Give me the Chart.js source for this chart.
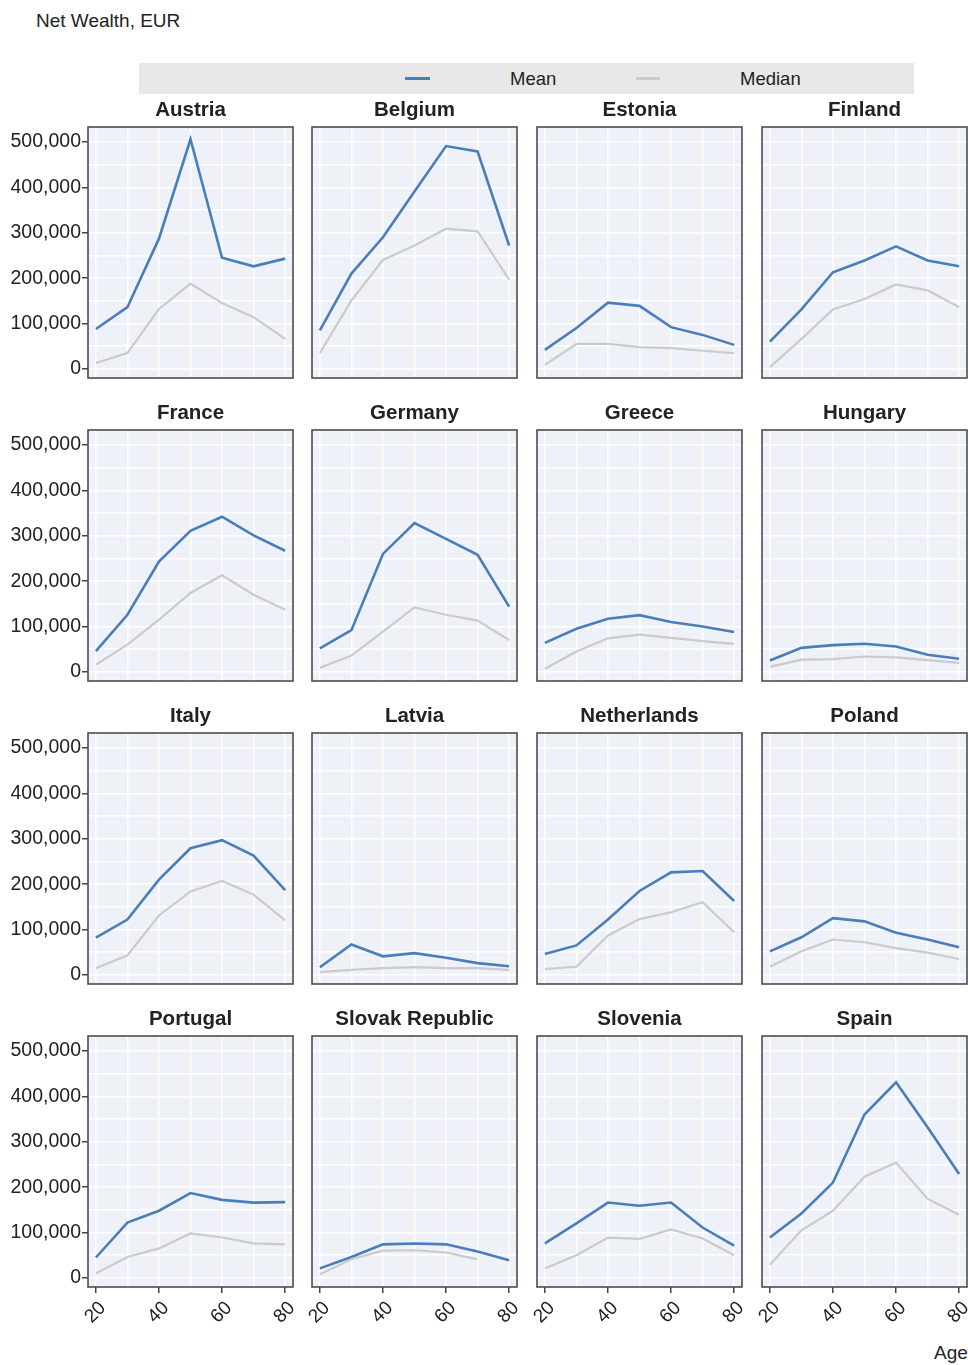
<!DOCTYPE html>
<html>
<head>
<meta charset="utf-8">
<script src="https://cdn.jsdelivr.net/npm/chart.js@4.4.0/dist/chart.umd.min.js"></script>
<style>
  body { margin: 0; background: #fff; font-family: "Liberation Sans", Arial, sans-serif; color: #222; }
  #page { position: relative; width: 968px; height: 1365px; overflow: hidden; }
  .panel { position: absolute; }
  #header { position: absolute; left: 36px; top: 10px; font-size: 19px; }
  #legend { position: absolute; left: 139px; top: 63px; width: 775px; height: 31px; background: #e8e8e8; font-size: 18.5px; }
  #legend span { position: absolute; }
  .swatch { top: 14px; height: 2.5px; }
  .lbl { top: 5px; }
  #agelabel { position: absolute; left: 934px; top: 1342px; font-size: 19px; }
</style>
</head>
<body>
<div id="page">
  <div id="header">Net Wealth, EUR</div>
  <div id="legend">
    <span class="swatch" style="left:266px;width:25px;background:#4a7ebb"></span>
    <span class="lbl" style="left:371px">Mean</span>
    <span class="swatch" style="left:497px;width:24px;background:#cbcbcb"></span>
    <span class="lbl" style="left:601px">Median</span>
  </div>
  <div id="agelabel">Age</div>
</div>
<script>
// Net wealth by age of household head, EUR
const ages = [20, 30, 40, 50, 60, 70, 80];
const yTickValues = [0, 50000, 100000, 150000, 200000, 250000, 300000, 350000, 400000, 450000, 500000];

const countries = [
  "Austria", "Belgium", "Estonia", "Finland",
  "France", "Germany", "Greece", "Hungary",
  "Italy", "Latvia", "Netherlands", "Poland",
  "Portugal", "Slovak Republic", "Slovenia", "Spain"
];

const austriaMean = [88000, 136000, 287000, 506000, 245000, 226000, 243000];
const austriaMedian = [13000, 35000, 132000, 188000, 145000, 114000, 66000];
const belgiumMean = [85000, 210000, 290000, 391000, 491000, 479000, 272000];
const belgiumMedian = [35000, 151000, 240000, 272000, 309000, 303000, 197000];
const estoniaMean = [42000, 90000, 146000, 139000, 92000, 75000, 53000];
const estoniaMedian = [9000, 55000, 55000, 48000, 46000, 40000, 35000];
const finlandMean = [60000, 131000, 213000, 239000, 270000, 239000, 226000];
const finlandMedian = [4000, 66000, 131000, 154000, 186000, 173000, 136000];

const franceMean = [46000, 126000, 243000, 311000, 342000, 301000, 267000];
const franceMedian = [16000, 60000, 115000, 174000, 213000, 170000, 137000];
const germanyMean = [52000, 92000, 260000, 328000, 293000, 258000, 144000];
const germanyMedian = [9000, 36000, 89000, 142000, 126000, 113000, 70000];
const greeceMean = [64000, 95000, 117000, 125000, 110000, 100000, 88000];
const greeceMedian = [7000, 45000, 74000, 82000, 75000, 68000, 62000];
const hungaryMean = [25000, 53000, 59000, 62000, 56000, 38000, 29000];
const hungaryMedian = [11000, 27000, 28000, 34000, 32000, 26000, 20000];

const italyMean = [82000, 122000, 210000, 279000, 297000, 263000, 187000];
const italyMedian = [15000, 43000, 131000, 184000, 207000, 177000, 120000];
const latviaMean = [17000, 67000, 41000, 48000, 38000, 26000, 19000];
const latviaMedian = [6000, 11000, 15000, 17000, 15000, 15000, 11000];
const netherlandsMean = [46000, 65000, 122000, 185000, 226000, 229000, 163000];
const netherlandsMedian = [13000, 18000, 87000, 123000, 138000, 160000, 94000];
const polandMean = [52000, 83000, 125000, 118000, 93000, 78000, 61000];
const polandMedian = [18000, 52000, 78000, 72000, 59000, 49000, 35000];

const portugalMean = [45000, 122000, 148000, 187000, 172000, 166000, 167000];
const portugalMedian = [10000, 46000, 65000, 98000, 89000, 76000, 74000];
const slovakMean = [21000, 46000, 74000, 76000, 74000, 58000, 39000];
const slovakMedian = [8000, 41000, 60000, 61000, 56000, 41000, null];
const sloveniaMean = [76000, 120000, 166000, 159000, 166000, 111000, 71000];
const sloveniaMedian = [21000, 50000, 89000, 86000, 107000, 87000, 50000];
const spainMean = [89000, 142000, 210000, 360000, 431000, 332000, 229000];
const spainMedian = [29000, 105000, 148000, 223000, 254000, 174000, 139000];

const meanSeries = [
  austriaMean, belgiumMean, estoniaMean, finlandMean,
  franceMean, germanyMean, greeceMean, hungaryMean,
  italyMean, latviaMean, netherlandsMean, polandMean,
  portugalMean, slovakMean, sloveniaMean, spainMean
];
const medianSeries = [
  austriaMedian, belgiumMedian, estoniaMedian, finlandMedian,
  franceMedian, germanyMedian, greeceMedian, hungaryMedian,
  italyMedian, latviaMedian, netherlandsMedian, polandMedian,
  portugalMedian, slovakMedian, sloveniaMedian, spainMedian
];

const MEAN_COLOR = "#4a7ebb";
const MEDIAN_COLOR = "#cbcbcb";
const PLOT_BG = "#eef1f8";
const FONT = "'Liberation Sans', Arial, sans-serif";

// panel geometry
const colLeft = [88, 312, 537, 762];
const rowTop0 = 127, rowStep = 303;
const plotW = 205, plotH = 251;
const titleSpace = 32;
const titleSize = 20.5;

// fills the plot area and draws the dark frame
const framePlugin = {
  id: "frame",
  beforeDraw(chart) {
    const a = chart.chartArea, ctx = chart.ctx;
    ctx.save();
    ctx.fillStyle = PLOT_BG;
    ctx.fillRect(a.left, a.top, a.right - a.left, a.bottom - a.top);
    ctx.restore();
  },
  afterDraw(chart) {
    const a = chart.chartArea, ctx = chart.ctx;
    ctx.save();
    ctx.strokeStyle = "#4d4d4d";
    ctx.lineWidth = 1.6;
    ctx.strokeRect(a.left, a.top, a.right - a.left, a.bottom - a.top);
    ctx.restore();
  }
};

function toPoints(values) {
  return ages.map((age, i) => ({ x: age, y: values[i] }));
}

const page = document.getElementById("page");

countries.forEach((name, idx) => {
  const r = Math.floor(idx / 4), c = idx % 4;
  const firstCol = c === 0, bottomRow = r === 3;
  // bottom row needs room on the left for the rotated "20" label
  const leftExtra = firstCol ? 88 : (bottomRow ? 15 : 4);
  const rightExtra = c === 3 ? 1 : 4;
  const bottomExtra = bottomRow ? 60 : 4;

  const cw = leftExtra + plotW + rightExtra;
  const ch = titleSpace + plotH + bottomExtra;

  const canvas = document.createElement("canvas");
  canvas.className = "panel";
  canvas.width = cw;
  canvas.height = ch;
  canvas.style.width = cw + "px";
  canvas.style.height = ch + "px";
  canvas.style.left = (colLeft[c] - leftExtra) + "px";
  canvas.style.top = (rowTop0 + rowStep * r - titleSpace) + "px";
  page.appendChild(canvas);

  new Chart(canvas.getContext("2d"), {
    type: "line",
    data: {
      datasets: [
        {
          label: "Median",
          data: toPoints(medianSeries[idx]),
          borderColor: MEDIAN_COLOR,
          borderWidth: 2.2,
          pointRadius: 0,
          tension: 0,
          spanGaps: false
        },
        {
          label: "Mean",
          data: toPoints(meanSeries[idx]),
          borderColor: MEAN_COLOR,
          borderWidth: 2.6,
          pointRadius: 0,
          tension: 0
        }
      ]
    },
    options: {
      responsive: false,
      animation: false,
      devicePixelRatio: 1,
      layout: { padding: { left: 0, top: 0, right: rightExtra, bottom: bottomRow ? 0 : 4 } },
      plugins: {
        legend: { display: false },
        tooltip: { enabled: false },
        title: {
          display: true,
          text: name,
          fullSize: false,
          color: "#222",
          font: { family: FONT, size: titleSize, weight: "bold", lineHeight: 1.2 },
          padding: { top: 3, bottom: titleSpace - titleSize * 1.2 - 3 }
        }
      },
      scales: {
        x: {
          type: "linear",
          min: 17.5,
          max: 82.5,
          afterBuildTicks: (scale) => { scale.ticks = ages.map(v => ({ value: v })); },
          afterFit: (scale) => {
            scale.height = bottomRow ? 60 : 0;
            scale.paddingLeft = 0;
            scale.paddingRight = 0;
          },
          border: { display: false },
          grid: {
            color: "#ffffff",
            lineWidth: 1.5,
            drawTicks: bottomRow,
            tickLength: 6,
            tickColor: (ctx) => (ctx.tick && ctx.tick.value % 20 === 0 ? "#444" : "rgba(0,0,0,0)")
          },
          ticks: {
            display: bottomRow,
            autoSkip: false,
            minRotation: 45,
            maxRotation: 45,
            padding: 4,
            labelOffset: 7,
            color: "#222",
            font: { family: FONT, size: 19 },
            callback: (v) => (v % 20 === 0 ? String(v) : "")
          }
        },
        y: {
          min: -20000,
          max: 533000,
          afterBuildTicks: (scale) => { scale.ticks = yTickValues.map(v => ({ value: v })); },
          afterFit: (scale) => {
            scale.width = leftExtra;
            scale.paddingTop = 0;
            scale.paddingBottom = 0;
          },
          border: { display: false },
          grid: {
            color: "#ffffff",
            lineWidth: 1.5,
            drawTicks: firstCol,
            tickLength: 6,
            tickColor: (ctx) => (ctx.tick && ctx.tick.value % 100000 === 0 ? "#444" : "rgba(0,0,0,0)")
          },
          ticks: {
            display: firstCol,
            autoSkip: false,
            padding: 1,
            color: "#222",
            font: { family: FONT, size: 19.5 },
            callback: (v) => (v % 100000 === 0 ? v.toLocaleString("en-US") : "")
          }
        }
      }
    },
    plugins: [framePlugin]
  });
});
</script>
</body>
</html>
